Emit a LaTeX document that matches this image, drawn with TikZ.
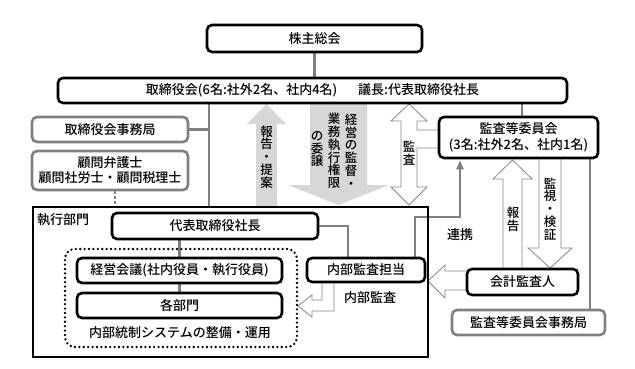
\documentclass[tikz,border=0pt]{standalone}
\usepackage{fontspec}
\setmainfont{Noto Sans CJK JP}[UprightFont=* Medium]
\usetikzlibrary{arrows.meta,calc,backgrounds}
\definecolor{gcol}{RGB}{128,128,128}
\definecolor{lgray}{RGB}{215,215,215}
\definecolor{hcol}{RGB}{135,135,135}
\begin{document}
\begin{tikzpicture}[x=1pt,y=-1pt,
  txt/.style={font=\fontsize{13}{15}\selectfont, inner sep=0pt},
  bbox/.style={draw=black, line width=2.6pt, rounded corners=5pt, fill=white, inner sep=0pt, font=\fontsize{13}{16}\selectfont, align=center},
  gbox/.style={draw=gcol, line width=2.6pt, rounded corners=5pt, fill=white, inner sep=0pt, font=\fontsize{13}{15}\selectfont, align=center},
  conn/.style={draw=gcol, line width=2.4pt},
  hollow/.style={draw=hcol, line width=0.8pt, fill=white, line join=miter},
  solidarr/.style={fill=lgray, draw=none},
  vtext/.style={align=center, inner sep=0pt, font=\fontsize{12.5}{12.8}\selectfont},
  dotbox/.style={draw=black, line width=2.6pt, dash pattern=on 0pt off 4.4pt, line cap=round, rounded corners=10pt, inner sep=0pt},
]
\useasboundingbox (0,0) rectangle (635,369);

% boxes
\node[bbox, minimum width=215pt, minimum height=27pt] (sh) at (314.5,38.5) {株主総会};
\node[bbox, minimum width=509pt, minimum height=25pt] (bod) at (312.5,90.5) {取締役会(6名:社外2名、社内4名)\hspace{1.6em}議長:代表取締役社長};
\node[gbox, minimum width=156pt, minimum height=25pt] (bsec) at (110,129.5) {取締役会事務局};
\node[gbox, minimum width=156pt, minimum height=39pt] (adv) at (110,170.5) {顧問弁護士\\顧問社労士・顧問税理士};
\node[draw=black, line width=1.1pt, minimum width=395pt, minimum height=150pt, inner sep=0pt] (exec) at (230.5,282) {};
\node[txt, anchor=west] (execlbl) at (37,220) {執行部門};
\node[bbox, minimum width=206pt, minimum height=26pt] (ceo) at (215,226) {代表取締役社長};
\node[dotbox, minimum width=232pt, minimum height=98pt] (ics) at (181,298) {};
\node[bbox, minimum width=205pt, minimum height=25pt] (mgmt) at (179.5,270.5) {経営会議(社内役員・執行役員)};
\node[bbox, minimum width=205pt, minimum height=25pt] (dept) at (179.5,305.5) {各部門};
\node[txt] (icslbl) at (180,333) {内部統制システムの整備・運用};
\node[bbox, minimum width=118pt, minimum height=24pt] (ia) at (366,270) {内部監査担当};
\node[bbox, minimum width=159pt, minimum height=41pt] (ac) at (518.5,137.5) {監査等委員会\\(3名:社外2名、社内1名)};
\node[bbox, minimum width=111pt, minimum height=26pt] (aud) at (522.5,282) {会計監査人};
\node[gbox, minimum width=153pt, minimum height=25pt] (acsec) at (528.5,322.5) {監査等委員会事務局};

% labels
\node[vtext] (lbl1) at (266.5,157) {報\\告\\・\\提\\案};
\node[vtext] (lbl2a) at (351,151) {経\\営\\の\\監\\督\\・};
\node[vtext] (lbl2b) at (334,151) {業\\務\\執\\行\\権\\限};
\node[vtext] (lbl2c) at (317,149) {の\\委\\譲};
\node[vtext] (lbl3) at (409,153.5) {監\\査};
\node[vtext] (lbl4) at (513,219) {報\\告};
\node[vtext] (lbl5) at (550,209) {監\\視\\・\\検\\証};
\node[txt] (lbl6) at (460,235) {連携};
\node[txt] (lbl7) at (370,298) {内部監査};

\begin{scope}[on background layer]
\fill[white] (0,0) rectangle (635,369);
% gray block arrows
\path[solidarr] (266.5,104) -- (286,124) -- (277,124) -- (277,206) -- (256,206) -- (256,124) -- (247,124) -- cycle;
\path[solidarr] (310,103) -- (367,103) -- (367,185) -- (389,185) -- (338.5,205) -- (288,185) -- (310,185) -- cycle;
% hollow arrows
\draw[hollow] (409,104) -- (427,121) -- (417,121) -- (417,130) -- (440,130) -- (440,148) -- (417,148) -- (417,187) -- (427,187) -- (409,205) -- (391,187) -- (401,187) -- (401,121) -- (391,121) -- cycle;
\draw[hollow] (512.5,160) -- (532,179) -- (522,179) -- (522,270) -- (503,270) -- (503,179) -- (493,179) -- cycle;
\draw[hollow] (539,157) -- (539,248) -- (528,248) -- (550,268) -- (572,248) -- (561,248) -- (561,157) -- cycle;
\draw[hollow] (468,271) -- (445,271) -- (445,265) -- (428,281) -- (445,298) -- (445,290) -- (468,290) -- cycle;
\draw[hollow] (322,281) -- (322,300) -- (312,300) -- (312,295) -- (298,306) -- (312,317) -- (312,311) -- (334,311) -- (334,281) -- cycle;
% connectors
\coordinate (spine) at (209,0);
\coordinate (secx) at (590,0);
\draw[conn] (sh.south) -- (sh.south |- bod.north);
\draw[conn] (bod.south -| spine) -- (exec.north -| spine);
\draw[conn] (bsec.east) -- (bsec.east -| spine);
\draw[conn, dash pattern=on 2.5pt off 2.5pt] ([xshift=5pt]adv.south) -- ([xshift=5pt]adv.south |- exec.north);
\draw[conn] ([xshift=3.5pt]ac.north) -- ([xshift=3.5pt]ac.north |- bod.south);
\draw[conn] (ac.south -| secx) -- (acsec.north -| secx);
\draw[conn] (mgmt.north |- ceo.south) -- (mgmt.north);
\draw[conn] (mgmt.south) -- (dept.north);
\draw[conn] (ceo.east) -| ([xshift=-18pt]ia.north);
\draw[conn, -{Triangle[length=9pt,width=7pt]}, shorten >=1pt] ([xshift=49pt]ia.north) -- ++(0,-40) -| ([xshift=-58.5pt]ac.south);
\end{scope}
\end{tikzpicture}
\end{document}
